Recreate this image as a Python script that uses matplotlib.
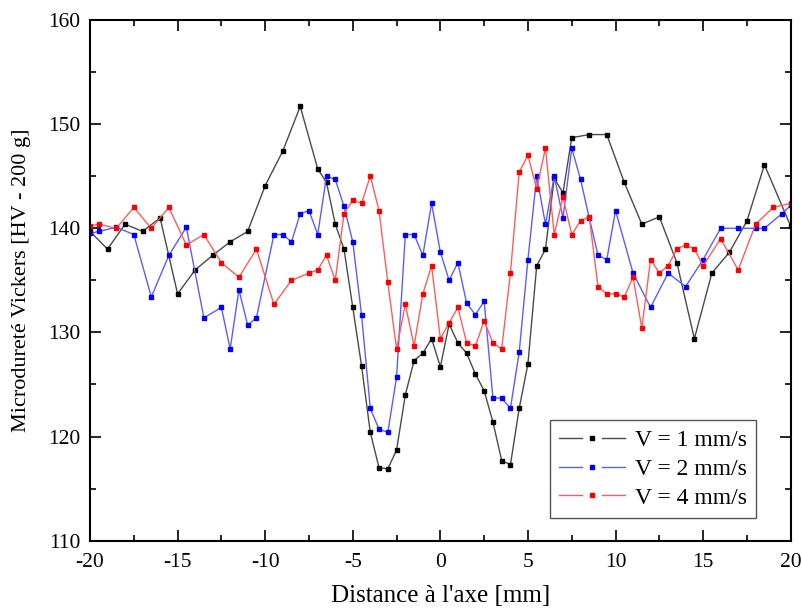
"""Microhardness profiles across the weld axis for three travel speeds."""

import matplotlib
matplotlib.use('Agg')
import matplotlib.pyplot as plt
from matplotlib.lines import Line2D
from matplotlib.legend_handler import HandlerBase
from matplotlib.ticker import MultipleLocator

# V = 1 mm/s
x_v1 = [-20, -19, -18, -17, -16, -15, -14, -13, -12, -11, -10, -9, -8, -7,
        -6.5, -6, -5.5, -5, -4.5, -4, -3.5, -3, -2.5, -2, -1.5, -1, -0.5,
        0, 0.5, 1, 1.5, 2, 2.5, 3, 3.5, 4, 4.5, 5, 5.5, 6, 6.5, 7, 7.5,
        8.5, 9.5, 10.5, 11.5, 12.5, 13.5, 14.5, 15.5, 16.5, 17.5, 18.5, 20]
hv_v1 = [139.7, 138.0, 140.4, 139.7, 141.0, 133.7, 136.0, 137.4, 138.7, 139.7,
         144.1, 147.4, 151.7, 145.7, 144.4, 140.4, 138.0, 132.4, 126.8, 120.4,
         117.0, 116.9, 118.7, 124.0, 127.3, 128.0, 129.4, 126.7, 130.8, 129.0,
         128.0, 126.0, 124.4, 121.4, 117.7, 117.3, 122.7, 127.0, 136.4, 138.0,
         144.8, 143.4, 148.7, 149.0, 149.0, 144.4, 140.4, 141.1, 136.7, 129.4,
         135.7, 137.7, 140.7, 146.1, 140.2]

# V = 2 mm/s
x_v2 = [-20, -19.5, -18.5, -17.5, -16.5, -15.5, -14.5, -13.5, -12.5, -12,
        -11.5, -11, -10.5, -9.5, -9, -8.5, -8, -7.5, -7, -6.5, -6, -5.5, -5,
        -4.5, -4, -3.5, -3, -2.5, -2, -1.5, -1, -0.5, 0, 0.5, 1, 1.5, 2, 2.5,
        3, 3.5, 4, 4.5, 5, 5.5, 6, 6.5, 7, 7.5, 8, 8.5, 9, 9.5, 10, 11, 12,
        13, 14, 15, 16, 17, 18, 18.5, 19.5, 20]
hv_v2 = [139.5, 139.7, 140.1, 139.4, 133.4, 137.4, 140.1, 131.4, 132.4, 128.4,
         134.1, 130.7, 131.4, 139.4, 139.4, 138.7, 141.4, 141.7, 139.4, 145.0,
         144.7, 142.1, 138.7, 131.7, 122.7, 120.7, 120.4, 125.7, 139.4, 139.4,
         137.4, 142.4, 137.7, 135.0, 136.7, 132.8, 131.7, 133.0, 123.7, 123.7,
         122.7, 128.1, 137.0, 145.0, 140.4, 145.0, 141.0, 147.7, 144.7, 141.0,
         137.4, 137.0, 141.7, 135.7, 132.4, 135.7, 134.4, 137.0, 140.0, 140.0,
         140.0, 140.0, 141.4, 142.2]

# V = 4 mm/s
x_v4 = [-20, -19.5, -18.5, -17.5, -16.5, -15.5, -14.5, -13.5, -12.5, -11.5,
        -10.5, -9.5, -8.5, -7.5, -7, -6.5, -6, -5.5, -5, -4.5, -4, -3.5, -3,
        -2.5, -2, -1.5, -1, -0.5, 0, 0.5, 1, 1.5, 2, 2.5, 3, 3.5, 4, 4.5, 5,
        5.5, 6, 6.5, 7, 7.5, 8, 8.5, 9, 9.5, 10, 10.5, 11, 11.5, 12, 12.5, 13,
        13.5, 14, 14.5, 15, 16, 17, 18, 19, 20]
hv_v4 = [140.2, 140.4, 140.0, 142.0, 140.0, 142.0, 138.4, 139.4, 136.7, 135.3,
         138.0, 132.7, 135.0, 135.7, 136.0, 137.4, 135.0, 141.4, 142.7, 142.4,
         145.0, 141.7, 134.8, 128.4, 132.7, 128.7, 133.7, 136.4, 129.4, 130.9,
         132.4, 129.0, 128.7, 131.1, 129.0, 128.4, 135.7, 145.4, 147.0, 143.8,
         147.7, 139.4, 143.0, 139.4, 140.7, 141.1, 134.4, 133.7, 133.7, 133.4,
         135.3, 130.4, 137.0, 135.7, 136.4, 138.0, 138.4, 138.0, 136.4, 139.0,
         136.0, 140.4, 142.0, 142.4]

labels = ['V = 1 mm/s', 'V = 2 mm/s', 'V = 4 mm/s']


class GapLineHandler(HandlerBase):
    """Origin-style legend entry: line - marker - line."""

    def create_artists(self, legend, orig, xdescent, ydescent, width, height,
                       fontsize, trans):
        y = height / 2 - ydescent
        mid = width / 2 - xdescent
        gap = 0.15 * width
        kw = dict(color=orig.get_color(), lw=orig.get_linewidth())
        left = Line2D([-xdescent, mid - gap], [y, y], **kw)
        right = Line2D([mid + gap, width - xdescent], [y, y], **kw)
        dot = Line2D([mid], [y], marker='s', linestyle='none',
                     markersize=orig.get_markersize(),
                     color=orig.get_markerfacecolor())
        for a in (left, right, dot):
            a.set_transform(trans)
        return [left, right, dot]


def main():
    plt.rcParams['font.family'] = ['Liberation Serif', 'DejaVu Serif']
    plt.rcParams['axes.unicode_minus'] = False

    fig = plt.figure(figsize=(8.03, 6.14), dpi=100)
    ax = fig.add_axes([0.1121, 0.1194, 0.8726, 0.848])

    series = [
        (x_v1, hv_v1, '#4a4a4a', '#000000'),
        (x_v2, hv_v2, '#5c5cff', '#0000ff'),
        (x_v4, hv_v4, '#ff5c5c', '#ff0000'),
    ]
    lines = []
    for (x, y, lc, mc), lab in zip(series, labels):
        ln, = ax.plot(x, y, color=lc, lw=1.0, marker='s', markersize=2.6,
                      markerfacecolor=mc, markeredgecolor=mc, label=lab)
        lines.append(ln)

    ax.set_xlim(-20, 20)
    ax.set_ylim(110, 160)
    ax.xaxis.set_major_locator(MultipleLocator(5))
    ax.xaxis.set_minor_locator(MultipleLocator(2.5))
    ax.yaxis.set_major_locator(MultipleLocator(10))
    ax.yaxis.set_minor_locator(MultipleLocator(5))
    ax.tick_params(which='both', direction='in', top=True, right=True,
                   width=1.2, labelsize=15.5)
    ax.tick_params(which='major', length=8)
    ax.tick_params(which='minor', length=4.5)
    ax.tick_params(axis='x', pad=9)
    ax.tick_params(axis='y', pad=7)
    for sp in ax.spines.values():
        sp.set_linewidth(1.5)

    ax.set_xlabel("Distance à l'axe [mm]", fontsize=18, labelpad=9)
    ax.set_ylabel("Microdureté Vickers [HV - 200 g]", fontsize=16, labelpad=12)

    leg = ax.legend(handles=lines, loc='lower right',
                    bbox_to_anchor=(0.9505, 0.0436), borderaxespad=0,
                    fontsize=17, handler_map={Line2D: GapLineHandler()},
                    handlelength=2.8, handletextpad=0.4, labelspacing=0.3,
                    borderpad=0.4, fancybox=False, framealpha=1)
    leg.get_frame().set_edgecolor('#555555')
    leg.get_frame().set_linewidth(1.0)

    fig.savefig('out.png', dpi=100)


if __name__ == "__main__":
    main()
